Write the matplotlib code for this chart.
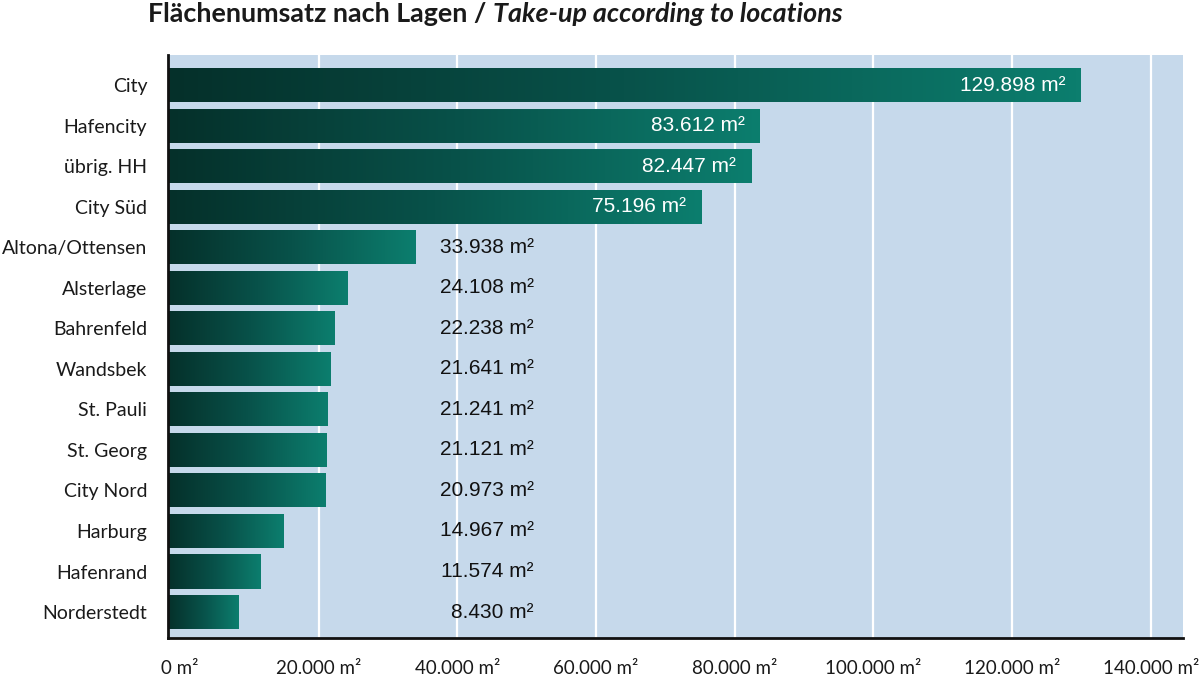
import matplotlib
matplotlib.use("Agg")
import matplotlib.pyplot as plt
import numpy as np
from matplotlib.colors import LinearSegmentedColormap

categories = ["City", "Hafencity", "übrig. HH", "City Süd", "Altona/Ottensen", "Alsterlage",
              "Bahrenfeld", "Wandsbek", "St. Pauli", "St. Georg", "City Nord", "Harburg",
              "Hafenrand", "Norderstedt"]
values = [129898, 83612, 82447, 75196, 33938, 24108, 22238, 21641, 21241, 21121, 20973,
          14967, 11574, 8430]
xticks = [0, 20000, 40000, 60000, 80000, 100000, 120000, 140000]
xtick_labels = ["0 m²", "20.000 m²", "40.000 m²", "60.000 m²", "80.000 m²",
                "100.000 m²", "120.000 m²", "140.000 m²"]
title_main = "Flächenumsatz nach Lagen / "
title_en = "Take-up according to locations"

def fmt(v):
    return f"{v:,}".replace(",", ".") + " m²"

fig = plt.figure(figsize=(12, 6.8), dpi=100)
ax = fig.add_axes([168/1200, 42/680, (1183-168)/1200, (638-55)/680])
ax.set_facecolor("#c6d9eb")

XMIN, XMAX = -1730, 144660
ax.set_xlim(XMIN, XMAX)
n = len(categories)
ax.set_ylim(n - 1 + 0.64, -0.74)

for xt in xticks[1:]:
    ax.axvline(xt, color="white", lw=1.6, zorder=1)

cmap = LinearSegmentedColormap.from_list("g", ["#05302a", "#08524a", "#0c7e6e"])
grad = np.linspace(0, 1, 256).reshape(1, -1)
ypos = np.arange(n)
vals = np.array(values, dtype=float)
# bars start at the axis line and end at their value
bars = ax.barh(ypos, vals - XMIN, left=XMIN, height=0.84, color="none",
               edgecolor="none", zorder=2)
for b in bars:
    x0, y0 = b.get_x(), b.get_y()
    w, h = b.get_width(), b.get_height()
    im = ax.imshow(grad, aspect="auto", cmap=cmap, extent=[x0, x0 + w, y0 + h, y0],
                   zorder=3, interpolation="bicubic")
    im.set_clip_path(b)

for i, v in enumerate(values):
    if v > 60000:
        ax.annotate(fmt(v), xy=(v, i), xytext=(-11, 0), textcoords="offset points",
                    ha="right", va="center", color="white", fontsize=15,
                    family="Liberation Sans", zorder=5)
    else:
        ax.text(51000, i, fmt(v), ha="right", va="center", color="#111111",
                fontsize=15, family="Liberation Sans", zorder=5)

ax.set_yticks(ypos)
ax.set_yticklabels(categories, fontsize=14, family="Lato", color="#1a1a1a")
ax.set_xticks(xticks)
ax.set_xticklabels(xtick_labels, fontsize=13.5, family="Lato", color="#1a1a1a")
ax.tick_params(axis="y", length=0, pad=15)
ax.tick_params(axis="x", length=0, pad=16)
for s in ["top", "right"]:
    ax.spines[s].set_visible(False)
for s in ["left", "bottom"]:
    ax.spines[s].set_color("#111111")
    ax.spines[s].set_linewidth(2)
    ax.spines[s].set_zorder(6)

t1 = fig.text(148/1200, 1 - 14/680, title_main, fontsize=19.4, fontweight="bold",
              family="Lato", color="#1a1a1a", va="center", ha="left")
fig.canvas.draw()
bb = t1.get_window_extent(fig.canvas.get_renderer())
fig.text(bb.x1/1200, 1 - 14/680, title_en, fontsize=19.4, fontweight="bold", style="italic",
         family="Lato", color="#1a1a1a", va="center", ha="left")

fig.savefig("out.png", dpi=100, facecolor="white")
